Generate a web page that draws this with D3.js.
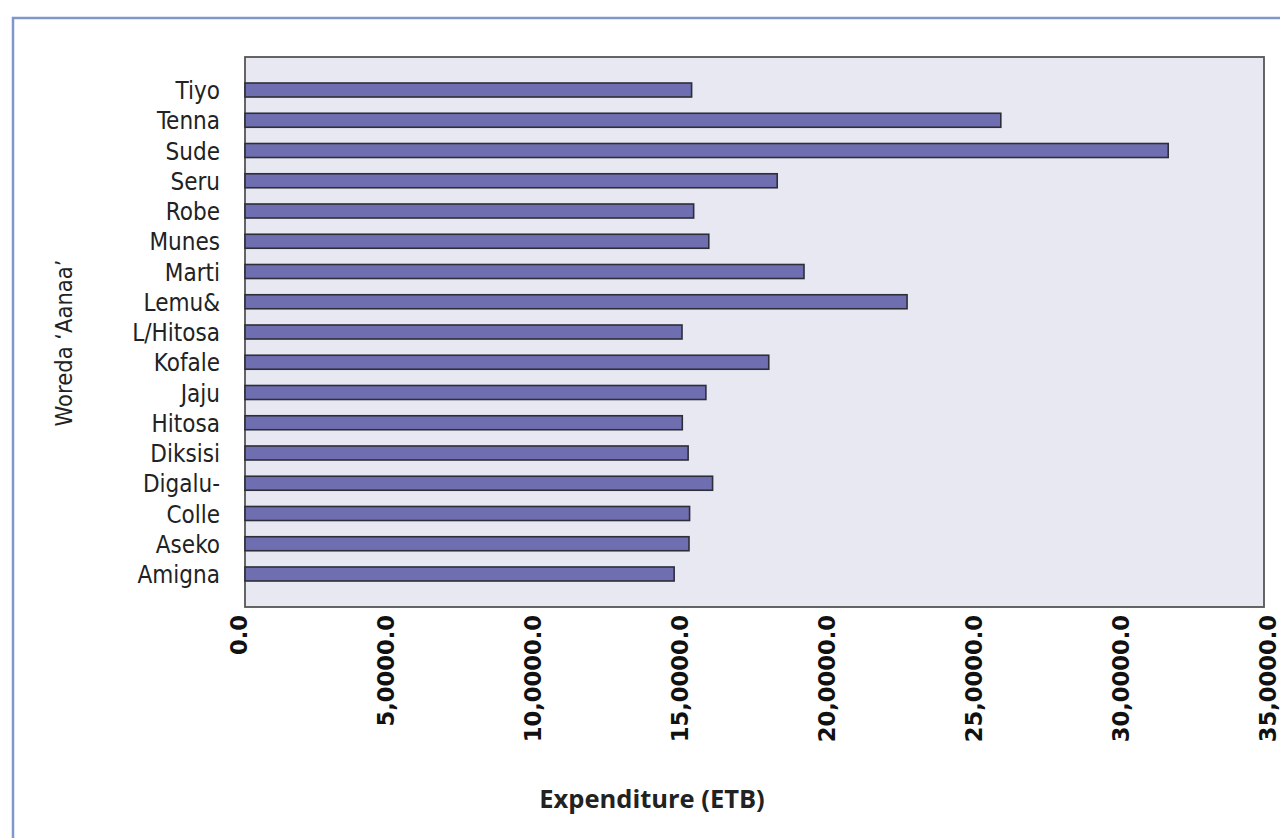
<!DOCTYPE html>
<html>
<head>
<meta charset="utf-8">
<script src="https://cdn.jsdelivr.net/npm/d3@7"></script>
<style>
  html, body { margin: 0; padding: 0; background: #ffffff; }
  svg { display: block; }
</style>
</head>
<body>
<svg id="chart" width="1280" height="838"></svg>
<script>
// Woreda ('Aanaa') names, top to bottom
const woredas = ["Tiyo", "Tenna", "Sude", "Seru", "Robe", "Munes", "Marti", "Lemu&",
  "L/Hitosa", "Kofale", "Jaju", "Hitosa", "Diksisi", "Digalu-", "Colle", "Aseko", "Amigna"];

// Expenditure per woreda (ETB)
const expenditure = [15340, 25960, 31710, 18280, 15410, 15930, 19200, 22740,
  15010, 17990, 15830, 15020, 15220, 16060, 15270, 15250, 14740];

// Axis ticks and their printed labels
const tickValues = [0, 5000, 10000, 15000, 20000, 25000, 30000, 35000];
const tickLabels = ["0.0", "5,0000.0", "10,0000.0", "15,0000.0", "20,0000.0",
  "25,0000.0", "30,0000.0", "35,0000.0"];

const xTitle = "Expenditure (ETB)";
const yTitle = "Woreda \u2018Aanaa\u2019";

const svg = d3.select("#chart");

const plot = { left: 245, right: 1264, top: 57, bottom: 607 };
const labelFont = "'Liberation Sans Narrow', 'DejaVu Sans Condensed', 'Liberation Sans', sans-serif";

// Outer frame
svg.append("rect")
  .attr("x", 13).attr("y", 18)
  .attr("width", 1290).attr("height", 840)
  .attr("fill", "none")
  .attr("stroke", "#8097cb")
  .attr("stroke-width", 2.5);

const x = d3.scaleLinear().domain([0, 35000]).range([plot.left, plot.right]);
// label positions spread slightly wider than the plot box
const xLab = d3.scaleLinear().domain([0, 35000]).range([238, 1267]);

const y = d3.scaleBand()
  .domain(woredas)
  .range([plot.top, plot.bottom])
  .paddingInner(0.537)
  .paddingOuter(0.86);

// Plot background
svg.append("rect")
  .attr("x", plot.left).attr("y", plot.top)
  .attr("width", plot.right - plot.left)
  .attr("height", plot.bottom - plot.top)
  .attr("fill", "#e8e8f3")
  .attr("stroke", "#555555")
  .attr("stroke-width", 1.8);

// Bars
svg.append("g")
  .selectAll("rect")
  .data(woredas.map((w, i) => ({ w, v: expenditure[i] })))
  .join("rect")
  .attr("x", x(0))
  .attr("y", d => y(d.w))
  .attr("width", d => x(d.v) - x(0))
  .attr("height", y.bandwidth())
  .attr("fill", "#6e6eb1")
  .attr("stroke", "#2e2e38")
  .attr("stroke-width", 1.6);

// Category labels
const yAxis = d3.axisLeft(y).tickSize(0).tickPadding(25);
const gy = svg.append("g")
  .attr("transform", `translate(${plot.left},0)`)
  .call(yAxis);
gy.select(".domain").remove();
gy.selectAll("text")
  .attr("font-family", labelFont)
  .attr("font-size", 24)
  .attr("fill", "#222222")
  .attr("dy", "0.38em");

// Value axis labels (rotated)
const xAxis = d3.axisBottom(xLab)
  .tickValues(tickValues)
  .tickSize(0)
  .tickFormat((d, i) => tickLabels[i]);
const gx = svg.append("g")
  .attr("transform", `translate(0,${plot.bottom})`)
  .call(xAxis);
gx.select(".domain").remove();
gx.selectAll("text")
  .attr("font-family", "'DejaVu Sans', sans-serif")
  .attr("font-weight", "bold")
  .attr("font-size", 22.6)
  .attr("fill", "#111111")
  .attr("text-anchor", "end")
  .attr("transform", "rotate(-90)")
  .attr("x", -8)
  .attr("y", 0)
  .attr("dy", "0.36em");

// Axis titles
svg.append("text")
  .attr("x", 652).attr("y", 808)
  .attr("text-anchor", "middle")
  .attr("font-family", "'Open Sans', sans-serif")
  .attr("font-weight", "bold")
  .attr("font-size", 25.5)
  .attr("fill", "#222222")
  .text(xTitle);

svg.append("text")
  .attr("transform", "translate(72,343) rotate(-90)")
  .attr("text-anchor", "middle")
  .attr("font-family", labelFont)
  .attr("font-size", 23.5)
  .attr("fill", "#222222")
  .text(yTitle);
</script>
</body>
</html>
